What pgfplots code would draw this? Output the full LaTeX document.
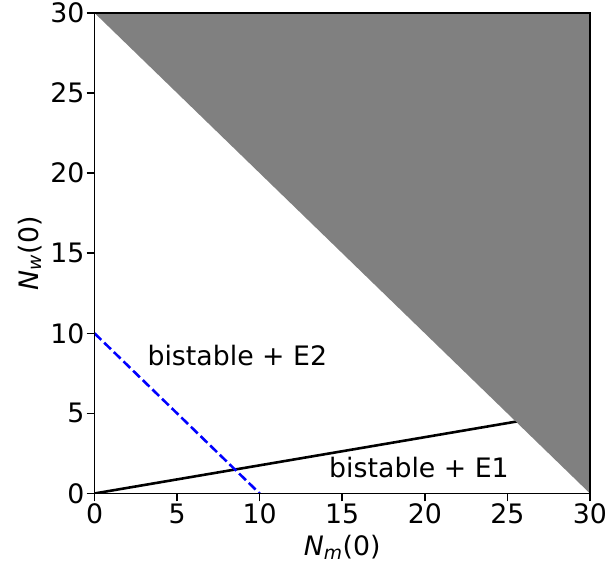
\documentclass[border=0pt]{standalone}
\usepackage{fontspec}
\setmainfont{DejaVu Sans}
\usepackage{pgfplots}
\pgfplotsset{compat=1.18}
\begin{document}
\begin{tikzpicture}
\begin{axis}[
  width=498bp, height=483bp, scale only axis,
  xmin=0, xmax=30, ymin=0, ymax=30,
  xtick={0,5,10,15,20,25,30}, ytick={0,5,10,15,20,25,30},
  tick align=outside, tick pos=left,
  major tick length=8bp,
  tick style={black, line width=1.6bp},
  axis line style={line width=1.6bp},
  /pgf/number format/assume math mode=true,
  tick label style={font=\fontsize{27}{32}\selectfont, inner sep=2bp},
  label style={font=\fontsize{27}{32}\selectfont},
  xlabel={\itshape N\textsubscript{m}\upshape(0)},
  ylabel={\itshape N\textsubscript{w}\upshape(0)},
  xlabel style={at={(axis description cs:0.5,-0.1118)}, anchor=center},
  ylabel style={at={(axis description cs:-0.1305,0.5)}, anchor=center},
  clip=true,
  axis on top,
]
\addplot[black, line width=2.6bp] coordinates {(0,0) (25.6,4.5)};
\addplot[blue, line width=2.6bp, dash pattern=on 9.5bp off 4bp] coordinates {(0,10) (10,0)};
\addplot[fill={rgb,255:red,128;green,128;blue,128}, draw=none] coordinates {(0,30) (30,30) (30,0)} -- cycle;
\node[anchor=west, font=\fontsize{27}{32}\selectfont] at (axis cs:3.0,8.6) {bistable + E2};
\node[anchor=west, font=\fontsize{27}{32}\selectfont] at (axis cs:14.0,1.6) {bistable + E1};
\end{axis}
\path (current axis.south west) ++(-95bp,-77bp) coordinate (bbA);
\path (current axis.north east) ++(16bp,13bp) coordinate (bbB);
\useasboundingbox (bbA) rectangle (bbB);
\end{tikzpicture}
\end{document}
